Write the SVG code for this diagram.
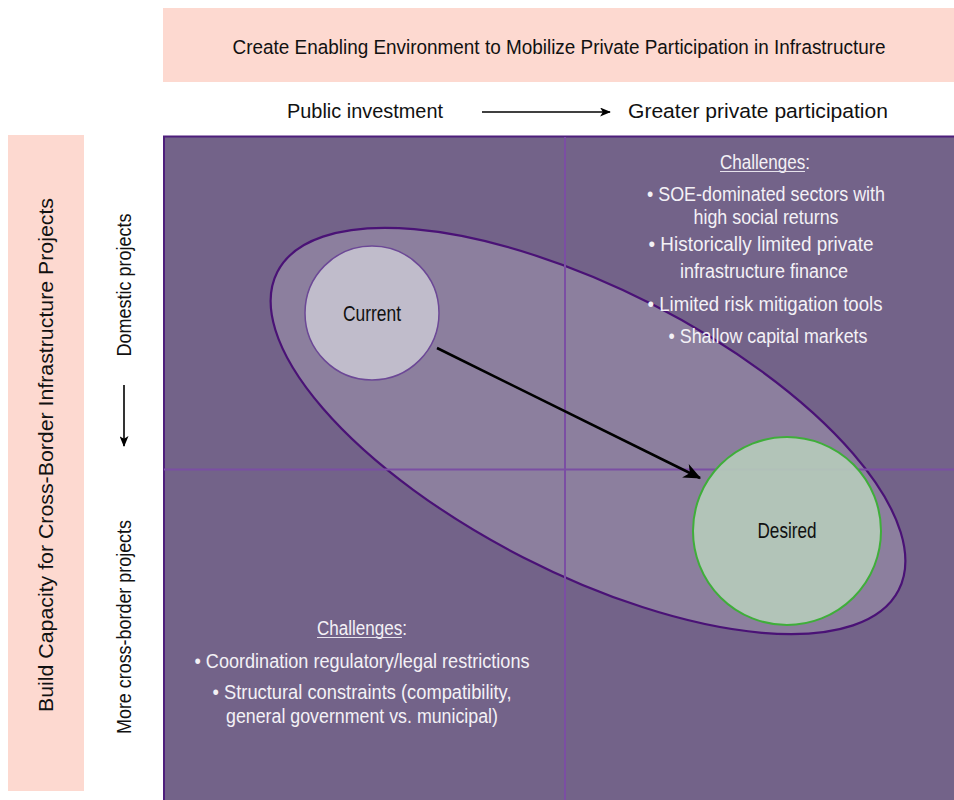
<svg xmlns="http://www.w3.org/2000/svg" width="954" height="800" viewBox="0 0 954 800">
<style>
text{font-family:"Liberation Sans",Arial,sans-serif;}
.lbl{font-size:20.5px;fill:#111;text-anchor:middle;}
.big{font-size:22px;fill:#111;text-anchor:middle;}
.ch{font-size:19.5px;fill:#f3f1f6;text-anchor:middle;}
.ul{stroke:#e6e2ec;stroke-width:1.2;}
.pink{fill:#fdd9d0;}
.div{stroke:#7b4ea3;stroke-width:2;fill:none;}
.arr{stroke:#000;fill:none;}
</style>
<defs>
<marker id="ah" viewBox="0 0 12 10" refX="11" refY="5" markerWidth="12" markerHeight="9" markerUnits="userSpaceOnUse" orient="auto">
<path d="M0,0 L12,5 L0,10 L3,5 z" fill="#000"/>
</marker>
<marker id="ahb" viewBox="0 0 14 12" refX="13" refY="6" markerWidth="18" markerHeight="15" markerUnits="userSpaceOnUse" orient="auto">
<path d="M0,0 L14,6 L0,12 L4,6 z" fill="#000"/>
</marker>
</defs>

<g id="top-banner">
<rect class="pink" x="163" y="8" width="791" height="74"/>
<text class="lbl" x="559" y="54" textLength="653" lengthAdjust="spacingAndGlyphs">Create Enabling Environment to Mobilize Private Participation in Infrastructure</text>
</g>

<g id="left-banner">
<rect class="pink" x="8" y="135" width="76" height="656"/>
<text class="lbl" transform="rotate(-90 53 455)" x="53" y="455" textLength="514" lengthAdjust="spacingAndGlyphs">Build Capacity for Cross-Border Infrastructure Projects</text>
</g>

<g id="axis-x">
<text class="lbl" x="365" y="118" textLength="156" lengthAdjust="spacingAndGlyphs">Public investment</text>
<text class="lbl" x="758" y="118" textLength="260" lengthAdjust="spacingAndGlyphs">Greater private participation</text>
</g>

<g id="axis-y">
<text class="lbl" transform="rotate(-90 131 285)" x="131" y="285" textLength="143" lengthAdjust="spacingAndGlyphs">Domestic projects</text>
<text class="lbl" transform="rotate(-90 131 627)" x="131" y="627" textLength="214" lengthAdjust="spacingAndGlyphs">More cross-border projects</text>
</g>

<g id="matrix">
<rect x="164" y="136.5" width="792" height="666" fill="#736389" stroke="#4e1f7c" stroke-width="2"/>
</g>

<g id="scope-ellipse">
<ellipse cx="588" cy="431" rx="349" ry="142" transform="rotate(27.1 588 431)" fill="#ffffff" fill-opacity="0.18" stroke="#4a1276" stroke-width="2.2"/>
</g>

<g id="dividers">
<line class="div" x1="565" y1="137" x2="565" y2="800"/>
<line class="div" x1="164" y1="469.5" x2="954" y2="469.5"/>
</g>

<g id="challenges-top">
<text class="ch" x="765" y="169" textLength="90" lengthAdjust="spacingAndGlyphs">Challenges:</text>
<line class="ul" x1="720" y1="171.5" x2="805" y2="171.5"/>
<text class="ch" x="766" y="201" textLength="238" lengthAdjust="spacingAndGlyphs">• SOE-dominated sectors with</text>
<text class="ch" x="766" y="224" textLength="145" lengthAdjust="spacingAndGlyphs">high social returns</text>
<text class="ch" x="761" y="251" textLength="225" lengthAdjust="spacingAndGlyphs">• Historically limited private</text>
<text class="ch" x="764" y="278" textLength="168" lengthAdjust="spacingAndGlyphs">infrastructure finance</text>
<text class="ch" x="765" y="311" textLength="235" lengthAdjust="spacingAndGlyphs">• Limited risk mitigation tools</text>
<text class="ch" x="768" y="343" textLength="199" lengthAdjust="spacingAndGlyphs">• Shallow capital markets</text>
</g>

<g id="challenges-bottom">
<text class="ch" x="362" y="635" textLength="90" lengthAdjust="spacingAndGlyphs">Challenges:</text>
<line class="ul" x1="317" y1="637.5" x2="402" y2="637.5"/>
<text class="ch" x="362" y="668" textLength="335" lengthAdjust="spacingAndGlyphs">• Coordination regulatory/legal restrictions</text>
<text class="ch" x="362" y="699" textLength="299" lengthAdjust="spacingAndGlyphs">• Structural constraints (compatibility,</text>
<text class="ch" x="362" y="723" textLength="272" lengthAdjust="spacingAndGlyphs">general government vs. municipal)</text>
</g>

<g id="current">
<circle cx="372" cy="313" r="67" fill="#c0bccb" stroke="#6c4896" stroke-width="1.5"/>
<text class="big" x="372" y="321" textLength="58" lengthAdjust="spacingAndGlyphs">Current</text>
</g>

<g id="desired">
<circle cx="787" cy="531" r="94" fill="#b5c9ba" fill-opacity="0.93" stroke="#3fae3a" stroke-width="2"/>
<text class="big" x="787" y="538" textLength="59" lengthAdjust="spacingAndGlyphs">Desired</text>
</g>

<g id="connectors">
<line class="arr" x1="482" y1="112" x2="610" y2="112" stroke-width="1.6" marker-end="url(#ah)"/>
<line class="arr" x1="124" y1="385" x2="124" y2="446" stroke-width="1.6" marker-end="url(#ah)"/>
<line class="arr" x1="437" y1="348" x2="700" y2="478" stroke-width="2.6" marker-end="url(#ahb)"/>
</g>
</svg>
